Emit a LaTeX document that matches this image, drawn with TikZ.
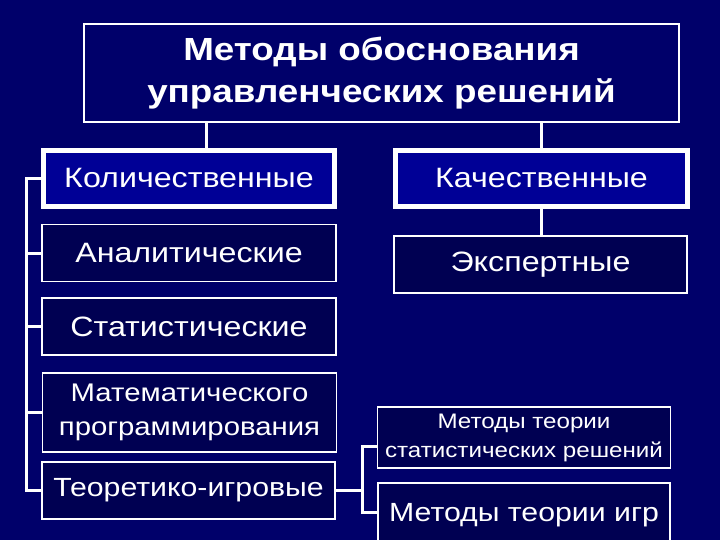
\documentclass[tikz,border=0pt]{standalone}
\usepackage{fontspec}
\setmainfont[FakeStretch=1.15]{Liberation Sans}
\usepackage{tikz}
\usetikzlibrary{positioning,calc}

\definecolor{bgnavy}{RGB}{0,0,106}
\definecolor{boxnavy}{RGB}{0,0,82}
\definecolor{hiblue}{RGB}{0,0,150}

\begin{document}
\begin{tikzpicture}[
    x=1pt, y=-1pt,
    title/.style={rectangle, draw=white, line width=1.2pt, fill=bgnavy, text=white, align=center, minimum width=595pt, minimum height=98pt, font=\bfseries\fontsize{32}{42}\selectfont},
    group/.style={rectangle, draw=white, line width=5pt, fill=hiblue, text=white, align=center, minimum width=291pt, minimum height=56pt, font=\fontsize{28}{32}\selectfont},
    method/.style={rectangle, draw=white, line width=1.2pt, fill=boxnavy, text=white, align=center, minimum width=294pt, minimum height=57pt, font=\fontsize{28}{32}\selectfont},
    link/.style={draw=white, line width=3pt}
]

% Background
\clip (0,0) rectangle (720,540);
\fill[bgnavy] (0,0) rectangle (720,540);

% Top level
\node[title] (top) at (381.5,73) {Методы обоснования\\управленческих решений};

% Two groups
\node[group] (quant) at (189,178.5) {Количественные};
\node[group, minimum width=292pt] (qual) at (541.5,178.5) {Качественные};

% Quantitative methods
\node[method] (anal) at (189,253) {Аналитические};
\node[method] (stat) at (189,326.5) {Статистические};
\node[method, minimum height=79pt, font=\fontsize{25.5}{34}\selectfont] (mathprog) at (189.5,412.5) {Математического\\программирования};
\node[method, minimum width=293pt, font=\fontsize{26.3}{30}\selectfont] (game) at (188.5,490.5) {Теоретико-игровые};

% Qualitative methods
\node[method, minimum width=293pt] (expert) at (540.5,264.5) {Экспертные};

% Game-theoretic methods
\node[method, minimum width=293pt, minimum height=61pt, font=\fontsize{21}{29}\selectfont] (statdec) at (524,437.5) {Методы теории\\статистических решений};
\node[method, minimum width=292pt, minimum height=64pt, font=\fontsize{26.3}{32}\selectfont] (gametheory) at (524,515) {Методы теории игр};

% Connectors from the top
\coordinate (spine) at (26,0);
\coordinate (fork) at (362,0);
\draw[link] ([xshift=17pt]quant.north) -- ([xshift=17pt]quant.north |- top.south);
\draw[link] (qual.north) -- (qual.north |- top.south);
\draw[link] (qual.south) -- (qual.south |- expert.north);

% Left spine
\draw[link] (quant.west) -- (quant.west -| spine) -- (game.west -| spine) -- (game.west);
\foreach \n in {anal,stat,mathprog}
    \draw[link] (\n.west) -- (\n.west -| spine);

% Right fork
\draw[link] (game.east) -- (game.east -| fork);
\draw[link] ([yshift=-9pt]statdec.west) -- ([yshift=-9pt]statdec.west -| fork) -- ([yshift=3pt]gametheory.west -| fork) -- ([yshift=3pt]gametheory.west);

\end{tikzpicture}
\end{document}
